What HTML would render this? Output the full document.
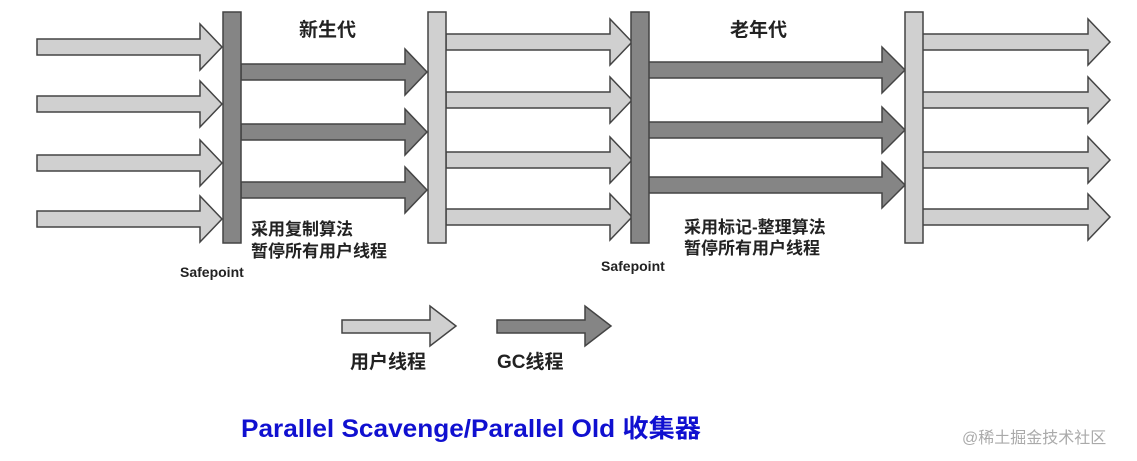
<!DOCTYPE html>
<html><head><meta charset="utf-8"><style>
html,body{margin:0;padding:0;background:#fff;}
svg{display:block}
.l{fill:#d0d0d0;stroke:#444;stroke-width:1.5}
.d{fill:#858585;stroke:#444;stroke-width:1.5}
text{font-family:"Liberation Sans","Noto Sans CJK SC",sans-serif;font-weight:bold;fill:#222}
</style></head><body>
<svg width="1137" height="461" viewBox="0 0 1137 461" xmlns="http://www.w3.org/2000/svg">
<polygon class="l" points="37,39 200,39 200,24 222,47 200,70 200,55 37,55"/>
<polygon class="l" points="37,96 200,96 200,81 222,104 200,127 200,112 37,112"/>
<polygon class="l" points="37,155 200,155 200,140 222,163 200,186 200,171 37,171"/>
<polygon class="l" points="37,211 200,211 200,196 222,219 200,242 200,227 37,227"/>
<polygon class="d" points="241,64 405,64 405,49 427,72 405,95 405,80 241,80"/>
<polygon class="d" points="241,124 405,124 405,109 427,132 405,155 405,140 241,140"/>
<polygon class="d" points="241,182 405,182 405,167 427,190 405,213 405,198 241,198"/>
<polygon class="l" points="446,34 610,34 610,19 632,42 610,65 610,50 446,50"/>
<polygon class="l" points="446,92 610,92 610,77 632,100 610,123 610,108 446,108"/>
<polygon class="l" points="446,152 610,152 610,137 632,160 610,183 610,168 446,168"/>
<polygon class="l" points="446,209 610,209 610,194 632,217 610,240 610,225 446,225"/>
<polygon class="d" points="648,62 882,62 882,47 905,70 882,93 882,78 648,78"/>
<polygon class="d" points="648,122 882,122 882,107 905,130 882,153 882,138 648,138"/>
<polygon class="d" points="648,177 882,177 882,162 905,185 882,208 882,193 648,193"/>
<polygon class="l" points="922,34 1088,34 1088,19 1110,42 1088,65 1088,50 922,50"/>
<polygon class="l" points="922,92 1088,92 1088,77 1110,100 1088,123 1088,108 922,108"/>
<polygon class="l" points="922,152 1088,152 1088,137 1110,160 1088,183 1088,168 922,168"/>
<polygon class="l" points="922,209 1088,209 1088,194 1110,217 1088,240 1088,225 922,225"/>
<rect class="d" x="223" y="12" width="18" height="231"/>
<rect class="l" x="428" y="12" width="18" height="231"/>
<rect class="d" x="631" y="12" width="18" height="231"/>
<rect class="l" x="905" y="12" width="18" height="231"/>
<polygon class="l" points="342,320 430,320 430,306 456,326 430,346 430,333 342,333"/>
<polygon class="d" points="497,320 585,320 585,306 611,326 585,346 585,333 497,333"/>
<text x="299" y="36" font-size="19">新生代</text>
<text x="730" y="36" font-size="19">老年代</text>
<text x="251" y="235" font-size="17">采用复制算法</text>
<text x="251" y="257" font-size="17">暂停所有用户线程</text>
<text x="684" y="233" font-size="17">采用标记-整理算法</text>
<text x="684" y="254" font-size="17">暂停所有用户线程</text>
<text x="180" y="277" font-size="14">Safepoint</text>
<text x="601" y="271" font-size="14">Safepoint</text>
<text x="350" y="368" font-size="19">用户线程</text>
<text x="497" y="368" font-size="19">GC线程</text>
<text x="241" y="437" font-size="25" style="fill:#1010d0" textLength="460" lengthAdjust="spacingAndGlyphs">Parallel Scavenge/Parallel Old 收集器</text>
<text x="962" y="443" font-size="16" style="fill:#aaa;font-weight:normal">@稀土掘金技术社区</text>
</svg>
</body></html>
